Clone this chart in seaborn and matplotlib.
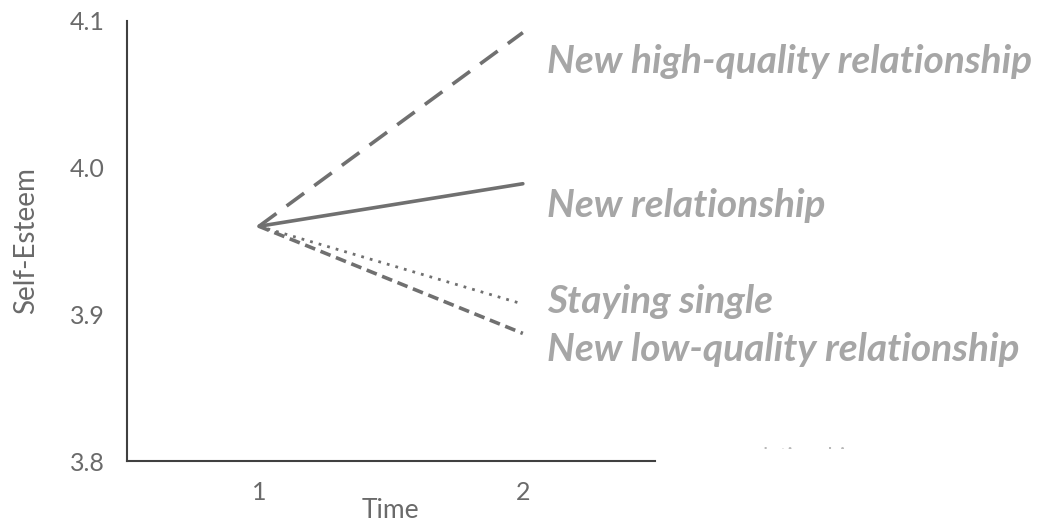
import pandas as pd
import numpy as np
import matplotlib
matplotlib.use("Agg")
import matplotlib.pyplot as plt
from matplotlib.patches import Rectangle
import seaborn as sns

# data
time_points = [1, 2]
high_quality = [3.96, 4.092]
new_rel = [3.96, 3.989]
staying_single = [3.96, 3.907]
low_quality = [3.96, 3.887]
group_names = ["New high-quality relationship", "New relationship",
               "Staying single", "New low-quality relationship"]
y_ticks = [3.8, 3.9, 4.0, 4.1]

rows = []
for name, vals in zip(group_names, [high_quality, new_rel, staying_single, low_quality]):
    for t, v in zip(time_points, vals):
        rows.append({"Time": t, "Self-Esteem": v, "group": name})
df = pd.DataFrame(rows)

sns.set_style("white")
plt.rcParams['font.family'] = ['Lato', 'DejaVu Sans']

fig = plt.figure(figsize=(10.41, 5.21), dpi=100)
ax = fig.add_axes([0.122, 0.115, 0.507, 0.845])

line_col = "#707070"
styles = {
    "New high-quality relationship": ((0, (6, 3.5)), 2.6),
    "New relationship": ("-", 2.6),
    "Staying single": ((0, (1, 2.2)), 2.0),
    "New low-quality relationship": ((0, (3, 1.6)), 2.6),
}
for name in group_names:
    sub = df[df["group"] == name]
    ls, lw = styles[name]
    sns.lineplot(data=sub, x="Time", y="Self-Esteem", ax=ax, color=line_col,
                 linestyle=ls, linewidth=lw, legend=False)

ax.set_xlim(0.5, 2.5)
ax.set_ylim(3.8, 4.1)
ax.set_xticks(time_points)
ax.set_yticks(y_ticks)
ax.set_yticklabels([f"{v:.1f}" for v in y_ticks])
sns.despine(ax=ax)
for s in ["left", "bottom"]:
    ax.spines[s].set_color("#404040")
    ax.spines[s].set_linewidth(1.5)
ax.tick_params(axis="y", direction="out", length=8, width=1.5, color="#404040",
               labelsize=18, labelcolor="#6a6a6a", pad=8)
ax.tick_params(axis="x", length=0, labelsize=18, labelcolor="#6a6a6a", pad=14)
ax.set_xlabel("Time", fontsize=19, color="#6a6a6a", labelpad=-4)
ax.set_ylabel("Self-Esteem", fontsize=20, color="#6a6a6a", labelpad=22)

# end labels
lab_col = "#a6a6a6"
label_y = [4.072, 3.974, 3.909, 3.876]
for name, yv in zip(group_names, label_y):
    ax.text(2.09, yv, name, fontsize=28, fontweight="bold", fontstyle="italic",
            color=lab_col, ha="left", va="center", clip_on=False)

# faint remnant text near the x axis, only its top edge shows
t = ax.text(2.835, 3.803, "relationship", fontsize=16, color="#b8b8b8",
            ha="left", va="center")
t.set_clip_path(Rectangle((745, 72), 140, 6, transform=None))
t.set_clip_on(True)

fig.savefig("out.png", dpi=100)
